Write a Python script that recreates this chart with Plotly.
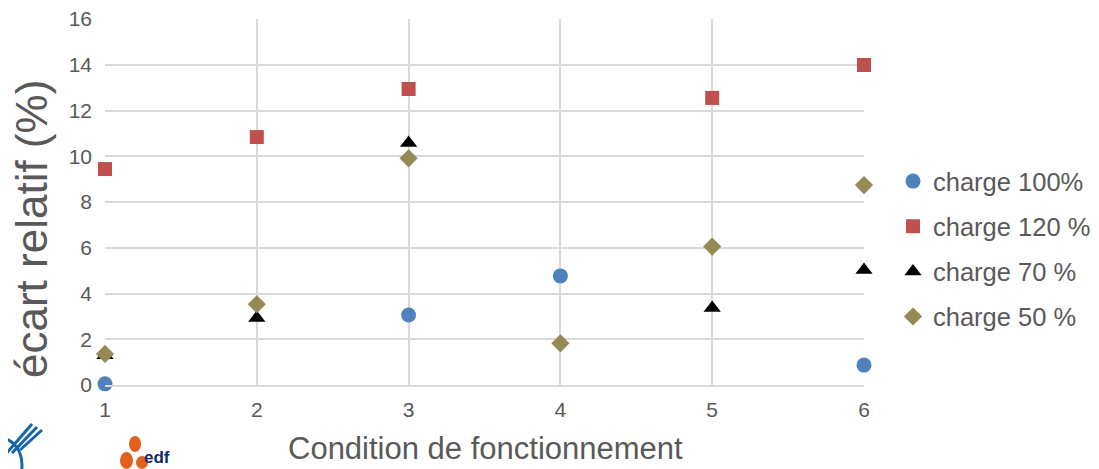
import plotly.graph_objects as go

conditions_100 = [1, 3, 4, 6]
charge_100 = [0.05, 3.06, 4.77, 0.87]

conditions_120 = [1, 2, 3, 5, 6]
charge_120 = [9.44, 10.84, 12.94, 12.55, 13.99]

conditions_70 = [1, 2, 3, 5, 6]
charge_70 = [1.3, 2.93, 10.58, 3.37, 5.03]

conditions_50 = [1, 2, 3, 4, 5, 6]
charge_50 = [1.36, 3.53, 9.91, 1.82, 6.05, 8.74]

x_ticks = [1, 2, 3, 4, 5, 6]
y_ticks = [0, 2, 4, 6, 8, 10, 12, 14, 16]

FONT = "Liberation Sans, Arial, sans-serif"
GREY = "#595959"

OFF = 8  # page body margin
W, H = 1099 - OFF, 469 - OFF
L, R, T, B = 105 - OFF, 864 - OFF, 19 - OFF, 385 - OFF


def px(x):
    return (x - OFF - L) / (R - L)


def py(y):
    return (B - (y - OFF)) / (B - T)


fig = go.Figure()
series = [
    ("charge 100%", conditions_100, charge_100, "circle", "#4F81BD", 15),
    ("charge 120 %", conditions_120, charge_120, "square", "#C0504D", 14),
    ("charge 70 %", conditions_70, charge_70, "triangle-up", "#000000", 15),
    ("charge 50 %", conditions_50, charge_50, "diamond", "#948A54", 14),
]
for name, xs, ys, sym, col, sz in series:
    fig.add_trace(go.Scatter(
        x=xs, y=ys, mode="markers", name=name, legendgroup=name,
        marker=dict(symbol=sym, color=col, size=sz, line=dict(width=0)),
        cliponaxis=False,
    ))

fig.update_layout(
    width=W, height=H,
    margin=dict(l=L, r=W - R, t=T, b=H - B, autoexpand=False),
    paper_bgcolor="white", plot_bgcolor="white",
    font=dict(family=FONT, color=GREY, size=21),
    showlegend=True,
    legend=dict(
        x=px(893), xanchor="left", y=py(249), yanchor="middle",
        font=dict(size=25.5, color=GREY, family=FONT),
        tracegroupgap=9, itemwidth=30, bgcolor="rgba(0,0,0,0)",
    ),
    xaxis=dict(
        range=[1, 6], tickvals=x_ticks, showgrid=True, gridcolor="#D9D9D9",
        gridwidth=1.5, zeroline=False, showline=True, linecolor="#D9D9D9",
        linewidth=1.5, ticks="", tickfont=dict(size=21, color=GREY),
        ticklabelstandoff=5, ticklabeloverflow="allow",
    ),
    yaxis=dict(
        range=[0, 16], tickvals=y_ticks, showgrid=True, gridcolor="#D9D9D9",
        gridwidth=1.5, zeroline=False, showline=False, ticks="",
        tickfont=dict(size=21, color=GREY), ticklabelstandoff=12,
        ticklabeloverflow="allow",
    ),
)

fig.add_annotation(xref="paper", yref="paper", x=px(485), y=py(468),
                   xanchor="center", yanchor="bottom", showarrow=False,
                   text="Condition de fonctionnement",
                   font=dict(size=31, color=GREY, family=FONT))
fig.add_annotation(xref="paper", yref="paper", x=px(31), y=py(229),
                   xanchor="center", yanchor="middle", showarrow=False,
                   text="écart relatif (%)", textangle=-90,
                   font=dict(size=44, color=GREY, family=FONT))

# approximate logos at bottom left
fig.add_annotation(xref="paper", yref="paper", x=px(142), y=py(469),
                   xanchor="left", yanchor="bottom", showarrow=False,
                   text="<b>edf</b>", font=dict(size=17, color="#0F2B6B", family=FONT))
for (x0, y0, x1, y1) in [(129, 436, 141, 452), (120, 452, 133, 469), (136, 456, 148, 469)]:
    fig.add_shape(type="circle", xref="paper", yref="paper",
                  x0=px(x0), y0=py(y1), x1=px(x1), y1=py(y0),
                  fillcolor="#E3601E", line=dict(width=0), layer="above")
fig.add_shape(type="circle", xref="paper", yref="paper",
              x0=px(-22), y0=py(492), x1=px(22), y1=py(438),
              fillcolor="rgba(0,0,0,0)", line=dict(width=3, color="#1565A8"))
for k in range(3):
    fig.add_shape(type="line", xref="paper", yref="paper",
                  x0=px(4 + 8 * k), y0=py(456 - 3 * k),
                  x1=px(32 + 5 * k), y1=py(424 + 3 * k),
                  line=dict(width=3, color="#1565A8"))

fig.write_html("out.html")
